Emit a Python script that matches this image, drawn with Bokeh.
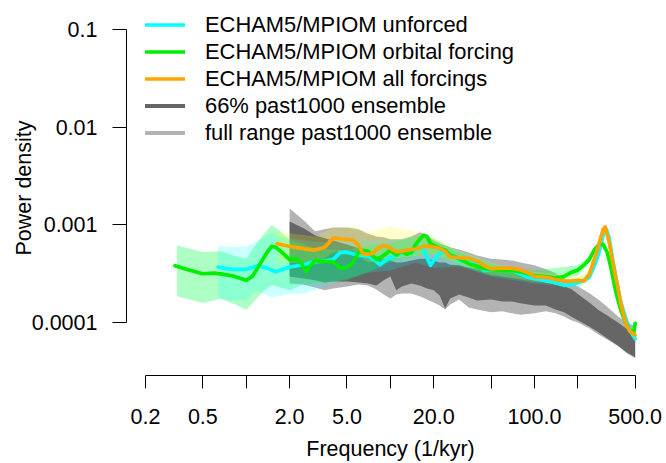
import math
from bokeh.plotting import figure
from bokeh.models import (Range1d, FixedTicker, CustomJSTickFormatter, Legend,
                          LegendItem)
from bokeh.embed import file_html
from bokeh.resources import INLINE

# ---------------- data (frequency in 1/kyr, power density) ----------------
freq_unforced = [0.64, 0.7, 0.8, 0.9, 1.0, 1.2, 1.4, 1.6, 1.8, 2.0, 2.5, 3.0, 3.5, 4.0, 4.5,
                 5.0, 6, 7, 8, 8.5, 9, 10, 11, 12, 13, 14, 15, 16, 17, 18, 19, 20, 22, 24, 26,
                 28, 30, 35, 40, 45, 50, 60, 70, 80, 90, 100, 120, 140, 160, 180, 200, 220,
                 240, 260, 280, 300, 315, 330, 350, 380, 400, 430, 460, 500]
pow_unforced = [3.7e-4, 3.6e-4, 3.5e-4, 3.5e-4, 3.5e-4, 3.8e-4, 3.6e-4, 3.3e-4, 3.5e-4, 3.7e-4,
                3.9e-4, 4.2e-4, 4.25e-4, 4.4e-4, 5.2e-4, 5.25e-4, 4.85e-4, 4.8e-4, 4.2e-4, 3.9e-4,
                4.2e-4, 4.6e-4, 4.9e-4, 5.15e-4, 5.4e-4, 5.1e-4, 5.6e-4, 6.0e-4, 5.5e-4, 4.6e-4,
                3.85e-4, 4.3e-4, 5.1e-4, 5.4e-4, 5.1e-4, 4.6e-4, 4.3e-4, 4.2e-4, 4.0e-4, 3.4e-4,
                3.5e-4, 3.4e-4, 3.4e-4, 3.15e-4, 2.9e-4, 2.8e-4, 2.7e-4, 2.55e-4, 2.4e-4, 2.45e-4,
                2.55e-4, 2.7e-4, 2.9e-4, 3.8e-4, 5.15e-4, 7.9e-4, 9.0e-4, 7.3e-4, 4.3e-4, 2.2e-4,
                1.57e-4, 1.1e-4, 8.3e-5, 6.8e-5]

freq_orbital = [0.32, 0.4, 0.5, 0.6, 0.7, 0.8, 1.0, 1.1, 1.2, 1.3, 1.4, 1.5, 1.6, 1.8, 2.0, 2.2,
                2.4, 2.6, 2.8, 3.0, 3.5, 4.0, 4.5, 5.0, 5.5, 6, 6.5, 7, 8, 9, 10, 11, 12, 13, 14,
                15, 16, 17, 18, 19, 20, 22, 24, 26, 28, 30, 35, 40, 45, 50, 60, 70, 80, 90, 100,
                120, 140, 160, 180, 200, 220, 240, 260, 280, 300, 320, 340, 360, 380, 400, 430,
                460, 490, 500]
pow_orbital = [3.8e-4, 3.45e-4, 3.15e-4, 3.2e-4, 3.1e-4, 3.0e-4, 2.7e-4, 2.95e-4, 3.6e-4, 4.4e-4,
               5.25e-4, 6.0e-4, 5.9e-4, 5.1e-4, 4.4e-4, 4.5e-4, 4.1e-4, 3.3e-4, 3.85e-4, 4.3e-4,
               4.2e-4, 4.2e-4, 3.6e-4, 3.65e-4, 4.1e-4, 5.2e-4, 5.45e-4, 5.35e-4, 4.4e-4, 4.85e-4,
               5.5e-4, 4.9e-4, 5.35e-4, 5.0e-4, 5.2e-4, 6.3e-4, 7.1e-4, 7.8e-4, 7.6e-4, 6.4e-4,
               6.15e-4, 5.75e-4, 5.5e-4, 4.9e-4, 4.7e-4, 4.5e-4, 4.0e-4, 3.75e-4, 3.55e-4, 3.5e-4,
               3.4e-4, 3.4e-4, 3.3e-4, 3.15e-4, 3.0e-4, 2.95e-4, 2.85e-4, 2.95e-4, 3.25e-4, 3.45e-4,
               3.85e-4, 4.4e-4, 5.5e-4, 6.3e-4, 6.3e-4, 5.2e-4, 3.6e-4, 2.35e-4, 1.7e-4, 1.3e-4,
               9.8e-5, 8.2e-5, 8.0e-5, 9.8e-5]

freq_all = [1.64, 1.8, 2.0, 2.5, 3.0, 3.5, 4.0, 4.5, 5.0, 5.5, 6, 6.5, 7, 7.5, 8, 9, 10, 11, 12,
            13, 15, 17, 19, 22, 24, 26, 30, 35, 40, 45, 50, 60, 70, 80, 90, 100, 120, 140, 160,
            180, 200, 220, 240, 260, 280, 300, 310, 330, 350, 380, 400, 430, 460, 500]
pow_all = [6.4e-4, 6.2e-4, 6.0e-4, 5.7e-4, 5.5e-4, 5.9e-4, 7.3e-4, 7.2e-4, 7.05e-4, 7.0e-4,
           6.2e-4, 5.0e-4, 5.0e-4, 5.05e-4, 5.6e-4, 6.15e-4, 5.75e-4, 5.3e-4, 5.35e-4, 5.5e-4,
           5.65e-4, 6.0e-4, 6.0e-4, 5.75e-4, 5.35e-4, 4.7e-4, 4.6e-4, 4.5e-4, 4.25e-4, 3.8e-4,
           3.55e-4, 3.6e-4, 3.6e-4, 3.45e-4, 3.25e-4, 2.95e-4, 2.9e-4, 2.75e-4, 2.65e-4, 2.65e-4,
           2.7e-4, 2.65e-4, 3.1e-4, 4.4e-4, 6.3e-4, 9.0e-4, 9.5e-4, 6.6e-4, 4.1e-4, 2.25e-4,
           1.5e-4, 9.8e-5, 8.1e-5, 7.4e-5]

# confidence bands of the model spectra
band_freq_unforced = [0.64, 0.8, 1.0, 1.15, 1.5, 2.0, 2.5, 3.5, 4.5, 7, 10, 15, 20, 30, 50, 100,
                      200, 240]
band_hi_unforced = [6.15e-4, 5.9e-4, 6.0e-4, 6.65e-4, 8.2e-4, 7.3e-4, 6.9e-4, 6.6e-4, 6.9e-4,
                    6.9e-4, 6.9e-4, 7.6e-4, 6.6e-4, 5.5e-4, 4.1e-4, 3.2e-4, 2.9e-4, 3.2e-4]
band_lo_unforced = [1.8e-4, 1.68e-4, 1.68e-4, 2.13e-4, 1.8e-4, 1.97e-4, 1.97e-4, 2.3e-4, 2.7e-4,
                    3.25e-4, 3.4e-4, 4.1e-4, 3.6e-4, 3.75e-4, 2.95e-4, 2.5e-4, 2.25e-4, 2.6e-4]

band_freq_orbital = [0.33, 0.5, 0.66, 0.82, 1.0, 1.15, 1.33, 1.5, 1.7, 2.0, 2.4, 3.0, 5.0, 7,
                     10, 15, 20, 30, 50, 100, 200, 240]
band_hi_orbital = [6.15e-4, 5.25e-4, 5.35e-4, 4.85e-4, 4.5e-4, 6.15e-4, 8.1e-4, 9.9e-4, 8.8e-4,
                   6.9e-4, 6.45e-4, 5.7e-4, 5.5e-4, 6.15e-4, 6.45e-4, 7.6e-4, 7.3e-4, 5.2e-4,
                   4.0e-4, 3.4e-4, 3.85e-4, 4.8e-4]
band_lo_orbital = [1.85e-4, 1.58e-4, 1.75e-4, 1.55e-4, 1.35e-4, 1.68e-4, 2.13e-4, 2.4e-4, 2.3e-4,
                   2.13e-4, 2.4e-4, 2.5e-4, 2.7e-4, 3.25e-4, 4.1e-4, 4.75e-4, 5.0e-4, 3.85e-4,
                   3.0e-4, 2.7e-4, 3.0e-4, 4.1e-4]

band_freq_all = [1.64, 2.0, 3.0, 4.0, 5.5, 7, 10, 15, 20, 30, 50, 100, 200, 240]
band_hi_all = [8.4e-4, 8.2e-4, 7.6e-4, 9.4e-4, 9.6e-4, 8.4e-4, 9.6e-4, 8.4e-4, 7.3e-4, 5.5e-4,
               4.1e-4, 3.3e-4, 3.0e-4, 3.4e-4]
band_lo_all = [4.1e-4, 4.1e-4, 3.9e-4, 5.2e-4, 5.5e-4, 4.1e-4, 4.5e-4, 4.75e-4, 5.0e-4, 3.9e-4,
               3.1e-4, 2.6e-4, 2.4e-4, 2.8e-4]

# past1000 ensemble envelopes
ens_freq = [2.0, 2.5, 3.0, 3.5, 4.0, 5.0, 6, 7, 8, 9, 10, 11, 12, 14, 16, 18, 20, 22, 24, 26,
            30, 35, 40, 50, 60, 70, 80, 100, 120, 140, 160, 180, 200, 240, 280, 320, 380, 440, 500]
ens_full_hi = [1.47e-3, 1.11e-3, 8.6e-4, 9.0e-4, 9.4e-4, 9.4e-4, 9.0e-4, 8.1e-4, 7.6e-4, 7.45e-4,
               7.1e-4, 7.1e-4, 7.1e-4, 7.6e-4, 8.4e-4, 7.8e-4, 6.9e-4, 6.45e-4, 6.15e-4, 5.9e-4,
               5.6e-4, 5.2e-4, 4.85e-4, 4.5e-4, 4.4e-4, 4.3e-4, 4.1e-4, 3.85e-4, 3.5e-4, 3.2e-4,
               2.8e-4, 2.55e-4, 2.35e-4, 2.0e-4, 1.7e-4, 1.45e-4, 1.15e-4, 1.0e-4, 9.1e-5]
ens_full_lo = [2.5e-4, 2.45e-4, 2.28e-4, 2.13e-4, 2.23e-4, 2.34e-4, 2.45e-4, 2.39e-4, 2.18e-4,
               1.93e-4, 1.76e-4, 1.93e-4, 1.98e-4, 1.98e-4, 1.85e-4, 1.72e-4, 1.6e-4, 1.49e-4,
               1.36e-4, 1.53e-4, 1.72e-4, 1.42e-4, 1.36e-4, 1.27e-4, 1.3e-4, 1.24e-4, 1.2e-4,
               1.24e-4, 1.3e-4, 1.24e-4, 1.15e-4, 1.05e-4, 1.0e-4, 8.7e-5, 7.5e-5, 6.7e-5, 5.7e-5,
               4.8e-5, 4.3e-5]
ens_66_hi = [1.08e-3, 9.2e-4, 7.8e-4, 7.3e-4, 6.9e-4, 6.3e-4, 5.75e-4, 5.2e-4, 4.75e-4, 4.5e-4,
             4.3e-4, 4.1e-4, 4.1e-4, 4.3e-4, 4.5e-4, 4.5e-4, 4.3e-4, 4.1e-4, 4.1e-4, 3.9e-4,
             3.85e-4, 3.65e-4, 3.55e-4, 3.4e-4, 3.3e-4, 3.25e-4, 3.1e-4, 2.75e-4, 2.55e-4, 2.45e-4,
             2.35e-4, 2.2e-4, 1.95e-4, 1.6e-4, 1.33e-4, 1.18e-4, 1.0e-4, 8.5e-5, 7.5e-5]
ens_66_lo = [2.95e-4, 2.82e-4, 2.7e-4, 2.57e-4, 2.63e-4, 2.63e-4, 2.57e-4, 2.5e-4, 2.39e-4,
             2.7e-4, 2.95e-4, 2.13e-4, 2.34e-4, 2.5e-4, 2.39e-4, 2.23e-4, 2.13e-4, 1.89e-4,
             1.39e-4, 1.76e-4, 1.93e-4, 1.8e-4, 1.68e-4, 1.72e-4, 1.64e-4, 1.64e-4, 1.57e-4,
             1.49e-4, 1.49e-4, 1.36e-4, 1.27e-4, 1.15e-4, 1.05e-4, 9.1e-5, 7.9e-5, 6.85e-5,
             5.8e-5, 4.9e-5, 4.4e-5]

x_ticks = [0.2, 0.5, 1, 2, 5, 10, 20, 50, 100, 200, 500]
x_tick_labels = ["0.2", "0.5", "", "2.0", "5.0", "", "20.0", "", "100.0", "", "500.0"]
y_ticks = [1e-4, 1e-3, 1e-2, 1e-1]
y_tick_labels = ["0.0001", "0.001", "0.01", "0.1"]

legend_labels = ["ECHAM5/MPIOM unforced", "ECHAM5/MPIOM orbital forcing",
                 "ECHAM5/MPIOM all forcings", "66% past1000 ensemble",
                 "full range past1000 ensemble"]

# ---------------- styles ----------------
CYAN = "#00FFFF"
GREEN = "#00EE00"
ORANGE = "#FFA500"
DARK = "#666666"
LIGHT = "#B3B3B3"
FONT = "Liberation Sans"
FS = "21.5px"
LW = 3.7

p = figure(width=664, height=463, x_axis_type="log", y_axis_type="log",
           x_range=Range1d(0.1476, 681), y_range=Range1d(2.862e-5, 0.198),
           output_backend="svg", toolbar_location=None,
           min_border_left=126, min_border_right=10, min_border_top=0,
           min_border_bottom=88)
p.outline_line_color = None
p.xgrid.visible = False
p.ygrid.visible = False
p.background_fill_color = "white"
p.border_fill_color = "white"

# hidden geometric-mid lines of the ensemble, used only as legend keys
ens_mid = [math.sqrt(a * b) for a, b in zip(ens_66_hi, ens_66_lo)]
r_dark = p.line(ens_freq, ens_mid, line_color=DARK, line_width=4, line_cap="round")
r_light = p.line(ens_freq, ens_mid, line_color=LIGHT, line_width=4, line_cap="round")
r_dark.visible = False
r_light.visible = False

# ensemble envelopes
p.varea(x=ens_freq, y1=ens_full_lo, y2=ens_full_hi, fill_color=LIGHT, fill_alpha=1.0)
p.varea(x=ens_freq, y1=ens_66_lo, y2=ens_66_hi, fill_color=DARK, fill_alpha=1.0)

# model bands
p.varea(x=band_freq_orbital, y1=band_lo_orbital, y2=band_hi_orbital,
        fill_color="#00FF48", fill_alpha=0.32)
p.varea(x=band_freq_unforced, y1=band_lo_unforced, y2=band_hi_unforced,
        fill_color=CYAN, fill_alpha=0.2)
p.varea(x=band_freq_all, y1=band_lo_all, y2=band_hi_all,
        fill_color="#FFFF00", fill_alpha=0.2)

# model spectra
r_unf = p.line(freq_unforced, pow_unforced, line_color=CYAN, line_width=LW,
               line_join="round", line_cap="round")
r_orb = p.line(freq_orbital, pow_orbital, line_color=GREEN, line_width=LW,
               line_join="round", line_cap="round")
r_all = p.line(freq_all, pow_all, line_color=ORANGE, line_width=LW,
               line_join="round", line_cap="round")

# legend
items = [LegendItem(label=lab, renderers=[r])
         for lab, r in zip(legend_labels, [r_unf, r_orb, r_all, r_dark, r_light])]
legend = Legend(items=items, location=(19, 229), glyph_width=40, glyph_height=27,
                label_height=27, spacing=0, padding=0, margin=0, label_standoff=20,
                label_text_font=FONT, label_text_font_size="21.9px", label_text_color="black",
                border_line_alpha=0, background_fill_alpha=0, inactive_fill_alpha=0)
p.add_layout(legend)

# axes
xa = p.xaxis[0]
xa.ticker = FixedTicker(ticks=x_ticks)
xa.formatter = CustomJSTickFormatter(args=dict(tvals=x_ticks, tlabs=x_tick_labels), code="""
    for (let i = 0; i < tvals.length; i++) {
        if (Math.abs(tvals[i] - tick) < 1e-9 * Math.max(1, tvals[i])) return tlabs[i];
    }
    return "";
""")
xa.bounds = (0.2, 500)
xa.major_tick_out = 13
xa.major_tick_in = 0
xa.minor_tick_line_color = None
xa.axis_line_color = "black"
xa.major_tick_line_color = "black"
xa.major_label_text_font = FONT
xa.major_label_text_font_size = FS
xa.major_label_text_color = "black"
xa.major_label_standoff = 20
xa.axis_label = "Frequency (1/kyr)"
xa.axis_label_text_font = FONT
xa.axis_label_text_font_size = FS
xa.axis_label_text_font_style = "normal"
xa.axis_label_text_color = "black"
xa.axis_label_standoff = 10

ya = p.yaxis[0]
ya.ticker = FixedTicker(ticks=y_ticks)
ya.formatter = CustomJSTickFormatter(args=dict(tvals=y_ticks, tlabs=y_tick_labels), code="""
    for (let i = 0; i < tvals.length; i++) {
        if (Math.abs(tvals[i] - tick) < 1e-6 * tvals[i]) return tlabs[i];
    }
    return "";
""")
ya.bounds = (1e-4, 0.1)
ya.major_tick_out = 14
ya.major_tick_in = 0
ya.minor_tick_line_color = None
ya.axis_line_color = "black"
ya.major_tick_line_color = "black"
ya.major_label_text_font = FONT
ya.major_label_text_font_size = FS
ya.major_label_text_color = "black"
ya.major_label_standoff = 15
ya.major_label_orientation = "horizontal"
ya.axis_label = "Power density"
ya.axis_label_text_font = FONT
ya.axis_label_text_font_size = FS
ya.axis_label_text_font_style = "normal"
ya.axis_label_text_color = "black"
ya.axis_label_standoff = -7

open("out.html", "w").write(file_html(p, INLINE))
